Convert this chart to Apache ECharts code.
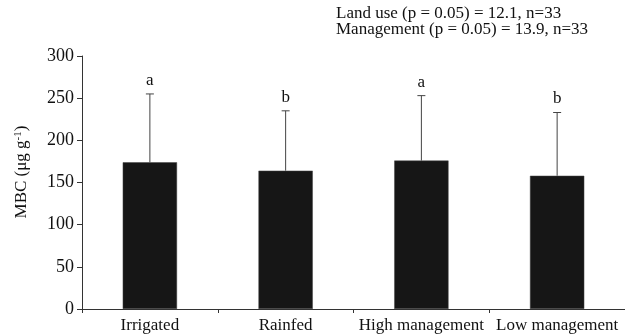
<!DOCTYPE html>
<html><head><meta charset="utf-8">
<script src="https://cdn.jsdelivr.net/npm/echarts@6/dist/echarts.min.js"></script>
<style>html,body{margin:0;padding:0;background:#fff}#c{width:625px;height:334px}</style>
</head><body><div id="c"></div>
<script>
var categories = ['Irrigated', 'Rainfed', 'High management', 'Low management'];
var meanValues = [174, 164, 176, 158];
var errorTops = [255, 235, 253, 233];
var letters = ['a', 'b', 'a', 'b'];
var yTicks = [0, 50, 100, 150, 200, 250, 300];
var noteLines = ['Land use (p = 0.05) = 12.1, n=33', 'Management (p = 0.05) = 13.9, n=33'];

var FONT = '"Liberation Serif", "Times New Roman", serif';
var chart = echarts.init(document.getElementById('c'), null, {renderer: 'canvas'});
var errData = categories.map(function (c, i) { return [i, meanValues[i], errorTops[i], letters[i]]; });
chart.setOption({
  animation: false,
  graphic: [{
    type: 'text', left: 336, top: 5,
    style: { text: noteLines.join('\n'), font: '17px ' + FONT, fill: '#111', lineHeight: 16 }
  }, {
    type: 'text', x: 22, y: 172, rotation: Math.PI / 2,
    style: {
      text: '{a|MBC (μg g}{s|-1}{a|)}', align: 'center', verticalAlign: 'middle',
      rich: { a: { fontFamily: FONT, fontSize: 17, fill: '#111' }, s: { fontFamily: FONT, fontSize: 11, fill: '#111', verticalAlign: 'top', padding: [0, 0, 7, 0] } }
    }
  }],
  grid: { left: 82, top: 56, width: 544, bottom: 25, containLabel: false },
  xAxis: {
    type: 'category', data: categories,
    axisLine: { lineStyle: { color: '#333', width: 1 } },
    axisTick: { show: true, length: 4, lineStyle: { color: '#333' } },
    axisLabel: { fontFamily: FONT, fontSize: 17, color: '#111', margin: 8, interval: 0 }
  },
  yAxis: {
    type: 'value', min: yTicks[0], max: yTicks[yTicks.length - 1], interval: 50,
    axisLine: { show: true, lineStyle: { color: '#333', width: 1 } },
    axisTick: { show: true, length: 5, inside: false, lineStyle: { color: '#333' } },
    axisLabel: { fontFamily: FONT, fontSize: 18, color: '#111', margin: 8 },
    splitLine: { show: false }
  },
  series: [{
    type: 'bar', data: meanValues, barWidth: '40%',
    itemStyle: { color: '#161616', borderColor: '#444', borderWidth: 0.5 }
  }, {
    type: 'custom', data: errData, z: 1,
    renderItem: function (params, api) {
      var x = api.value(0);
      var base = api.coord([x, api.value(1)]);
      var top = api.coord([x, api.value(2)]);
      return {
        type: 'group', children: [
          { type: 'line', shape: { x1: base[0], y1: base[1], x2: top[0], y2: top[1] }, style: { stroke: '#444', lineWidth: 1 } },
          { type: 'line', shape: { x1: top[0] - 4, y1: top[1], x2: top[0] + 4, y2: top[1] }, style: { stroke: '#444', lineWidth: 1 } },
          { type: 'text', x: top[0], y: top[1] - 5, style: { text: api.value(3), font: '17px ' + FONT, fill: '#111', align: 'center', verticalAlign: 'bottom' } }
        ]
      };
    }
  }]
});
</script></body></html>
